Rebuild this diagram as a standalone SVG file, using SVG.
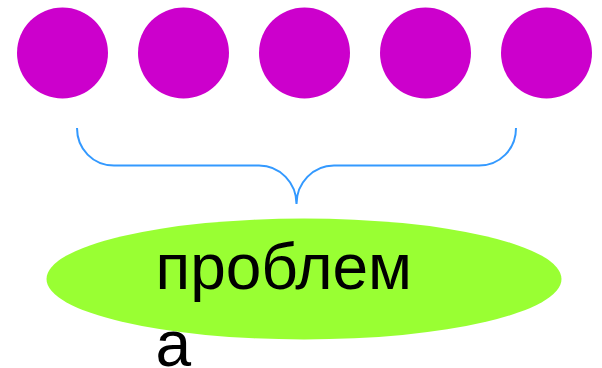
<svg xmlns="http://www.w3.org/2000/svg" width="602" height="368" viewBox="0 0 602 368">
<style>
.dot{fill:#cc00cc}
.brace{fill:none;stroke:#3399ff;stroke-width:2}
.lbl{font-family:"Liberation Sans",Arial,sans-serif;font-size:64px;fill:#000}
</style>
<rect width="602" height="368" fill="#fff"/>
<g id="node-1"><circle class="dot" cx="62.500" cy="53" r="45.500"/></g>
<g id="node-2"><circle class="dot" cx="183.500" cy="53" r="45.500"/></g>
<g id="node-3"><circle class="dot" cx="304.500" cy="53" r="45.500"/></g>
<g id="node-4"><circle class="dot" cx="425.500" cy="53" r="45.500"/></g>
<g id="node-5"><circle class="dot" cx="546.500" cy="53" r="45.500"/></g>
<g id="connectors"><path class="brace" d="M77 128C77 149 93 165.500 114 165.500L259 165.500C280 165.500 296.500 183 296.500 204C296.500 183 313 165.500 334 165.500L479 165.500C500 165.500 516 149 516 128"/></g>
<g id="node-problem"><ellipse cx="304" cy="279" rx="257.500" ry="60.500" fill="#99ff33"/>
<text class="lbl" x="155.500" y="289">проблем</text><text class="lbl" x="155.500" y="366">а</text></g>
</svg>
